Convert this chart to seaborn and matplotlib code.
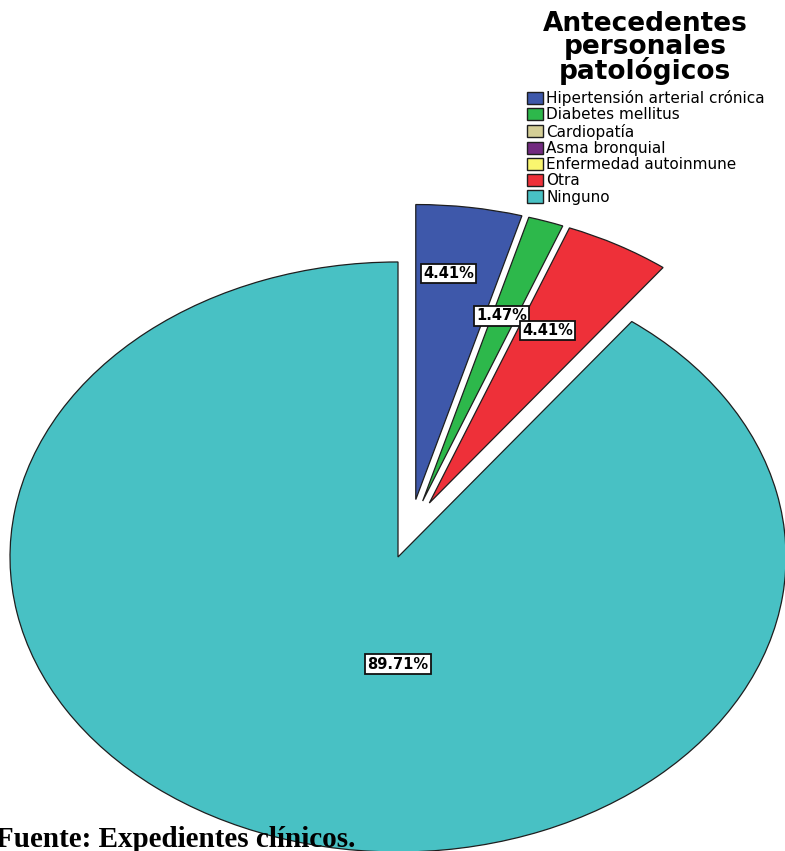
import numpy as np
import matplotlib
matplotlib.use("Agg")
import matplotlib.pyplot as plt
from matplotlib.patches import Patch
import seaborn as sns

# Antecedentes personales patológicos (% de pacientes)
categories = [
    "Hipertensión arterial crónica",
    "Diabetes mellitus",
    "Cardiopatía",
    "Asma bronquial",
    "Enfermedad autoinmune",
    "Otra",
    "Ninguno",
]
percentages = [4.41, 1.47, 0.0, 0.0, 0.0, 4.41, 89.71]
colors = ["#3E58AA", "#2DB84B", "#D4CE96", "#722A80", "#F9F66F", "#EE3039", "#48C1C4"]

title = "Antecedentes\npersonales\npatológicos"
source = "Fuente: Expedientes clínicos."

sns.set_theme(style="white")
plt.rcParams["font.family"] = ["DejaVu Sans"]
plt.rcParams["text.color"] = "black"

fig = plt.figure(figsize=(7.85, 8.51), dpi=100)
ax = fig.add_axes([0, 0, 1, 1])

# only slices with a value are drawn
vals = np.array(percentages)
mask = vals > 0
draw_vals = vals[mask]
draw_cols = [c for c, m in zip(colors, mask) if m]

wedges, _ = ax.pie(
    draw_vals,
    colors=draw_cols,
    startangle=90,
    counterclock=False,
    wedgeprops=dict(edgecolor="#1e1e1e", linewidth=0.9),
)

# pull the small slices out: each one moves along a direction halfway
# between its own mid-angle and the mid-angle of the whole small group
big = int(np.argmax(draw_vals))
small = [w for i, w in enumerate(wedges) if i != big]
group_mid = (max(w.theta2 for w in small) + min(w.theta1 for w in small)) / 2
pull = 0.2
for w in small:
    own_mid = (w.theta1 + w.theta2) / 2
    phi = np.deg2rad((own_mid + group_mid) / 2)
    w.set_center((pull * np.cos(phi), pull * np.sin(phi)))

# stretched (elliptical) pie
ax.set_aspect("auto")
ax.set_xlim(-1.0258, 0.9974)
ax.set_ylim(-0.9966, 1.888)
ax.axis("off")

# value labels: small slices a bit past the leading edge, the big one below centre
label_radius = [0.77, 0.66, 0.66]
small_i = 0
for i, (w, v) in enumerate(zip(wedges, draw_vals)):
    cx, cy = w.center
    if i == big:
        pos = (cx, cy - 0.363)
    else:
        ang = np.deg2rad(w.theta2 - 0.4 * (w.theta2 - w.theta1))
        r = label_radius[small_i]
        small_i += 1
        pos = (cx + r * np.cos(ang), cy + r * np.sin(ang))
    ax.text(
        pos[0], pos[1], f"{v:.2f}%",
        ha="center", va="center",
        fontsize=10.5, fontweight="bold", color="black",
        bbox=dict(boxstyle="square,pad=0.15", fc="white", ec="#111111", lw=1.3),
        zorder=5,
    )

# legend title
fig.text(
    645 / 785, 1 - 11 / 851, title,
    ha="center", va="top", multialignment="center",
    fontsize=19, fontweight="bold", color="black", linespacing=0.86,
)

handles = [
    Patch(facecolor=c, edgecolor="#1e1e1e", linewidth=1.0, label=cat)
    for cat, c in zip(categories, colors)
]
leg = fig.legend(
    handles=handles,
    loc="upper left",
    bbox_to_anchor=(527 / 785, 1 - 90 / 851),
    frameon=False,
    fontsize=11,
    labelcolor="black",
    handlelength=1.05,
    handleheight=0.85,
    handletextpad=0.2,
    labelspacing=0.085,
    borderpad=0,
    borderaxespad=0,
)

fig.text(
    -4 / 785, 4 / 851, source,
    family="Liberation Serif", fontweight="bold", fontsize=21,
    ha="left", va="baseline", color="black", zorder=10,
)

fig.savefig("out.png", dpi=100)
